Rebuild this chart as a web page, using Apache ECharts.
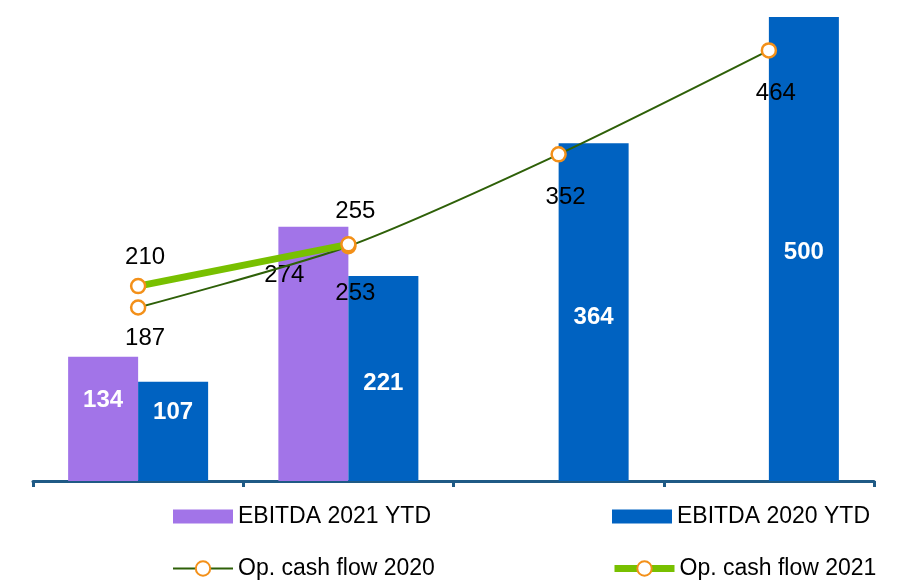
<!DOCTYPE html>
<html>
<head>
<meta charset="utf-8">
<script src="https://cdn.jsdelivr.net/npm/echarts@6/dist/echarts.min.js"></script>
<style>
  html, body { margin: 0; padding: 0; background: #fff; }
  #main { width: 904px; height: 580px; }
</style>
</head>
<body>
<div id="main"></div>
<script>
// chart data
var categories = ['Q1', 'Q2', 'Q3', 'Q4'];
var ebitda2021 = [134, 274, null, null];
var ebitda2020 = [107, 221, 364, 500];
var cash2020 = [187, 253, 352, 464];
var cash2021 = [210, 255, null, null];

var chartDom = document.getElementById('main');
var myChart = echarts.init(chartDom);
var font = 'Liberation Sans';

// label tweaks per point (placement only)
var purpleLabel = [
    { offset: [0, -18] },
    { offset: [-29, -78], color: '#000', fontWeight: 'normal' }
];
var blueOffsets = [[0, -19], [0, 5], [0, 5], [0, 3]];
var cash20Dist = [11, 27, 23, 23];
var cash21Dist = [8, 13];

function toData(arr, fn) {
    return arr.map(function (v, i) {
        if (v === null) return '-';
        return fn ? fn(v, i) : v;
    });
}

var legendText = { fontFamily: font, fontSize: 23, color: '#000' };

var option = {
    animation: false,
    grid: { left: 33, right: 30, top: 17, bottom: 99, containLabel: false },
    xAxis: {
        type: 'category',
        data: categories,
        axisLine: { lineStyle: { color: '#1F5A85', width: 3 } },
        axisTick: { show: true, interval: 0, length: 6, lineStyle: { color: '#1F5A85', width: 3 } },
        axisLabel: { show: false },
        splitLine: { show: false }
    },
    yAxis: {
        type: 'value',
        min: 0,
        max: 500,
        show: false,
        splitLine: { show: false }
    },
    legend: [
        { data: [{ name: 'EBITDA 2021 YTD', icon: 'rect' }], left: 173, top: 505 },
        { data: [{ name: 'EBITDA 2020 YTD', icon: 'rect' }], left: 612, top: 505 },
        { data: ['Op. cash flow 2020'], left: 172, top: 557, itemHeight: 18 },
        { data: ['Op. cash flow 2021'], left: 611, top: 557, itemHeight: 18, lineStyle: { width: 7 } }
    ].map(function (l) {
        l.padding = 0;
        l.itemWidth = 60;
        l.itemHeight = l.itemHeight || 14;
        l.itemGap = 5;
        l.textStyle = legendText;
        return l;
    }),
    series: [
        {
            name: 'EBITDA 2021 YTD',
            type: 'bar',
            barWidth: 70,
            barGap: 0,
            itemStyle: { color: '#A274E8' },
            label: {
                show: true, position: 'inside', color: '#fff', fontWeight: 'bold',
                fontFamily: font, fontSize: 24
            },
            data: toData(ebitda2021, function (v, i) {
                return { value: v, label: purpleLabel[i] };
            }),
            z: 2
        },
        {
            name: 'EBITDA 2020 YTD',
            type: 'bar',
            barWidth: 70,
            barGap: 0,
            itemStyle: { color: '#0062C1' },
            label: {
                show: true, position: 'inside', color: '#fff', fontWeight: 'bold',
                fontFamily: font, fontSize: 24
            },
            data: toData(ebitda2020, function (v, i) {
                return { value: v, label: { offset: blueOffsets[i] } };
            }),
            z: 2
        },
        {
            name: 'Op. cash flow 2020',
            type: 'line',
            smooth: 0.25,
            symbol: 'circle',
            symbolSize: 14,
            lineStyle: { color: '#2E6008', width: 2 },
            itemStyle: { color: '#fff', borderColor: '#F39019', borderWidth: 2.5 },
            label: {
                show: true, position: 'bottom', color: '#000',
                fontFamily: font, fontSize: 24, offset: [7, 0]
            },
            data: toData(cash2020, function (v, i) {
                return { value: v, label: { distance: cash20Dist[i] } };
            }),
            z: 4
        },
        {
            name: 'Op. cash flow 2021',
            type: 'line',
            symbol: 'circle',
            symbolSize: 14,
            lineStyle: { color: '#78C000', width: 7 },
            itemStyle: { color: '#fff', borderColor: '#F39019', borderWidth: 2.5 },
            label: {
                show: true, position: 'top', color: '#000',
                fontFamily: font, fontSize: 24, offset: [7, 0]
            },
            data: toData(cash2021, function (v, i) {
                return { value: v, label: { distance: cash21Dist[i] } };
            }),
            z: 5
        }
    ]
};

option && myChart.setOption(option);
</script>
</body>
</html>
